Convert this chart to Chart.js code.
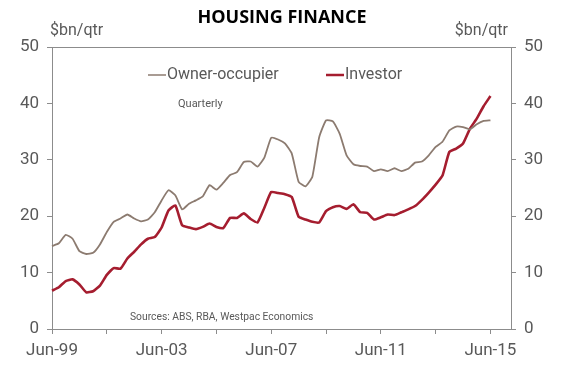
<!DOCTYPE html>
<html>
<head>
<meta charset="utf-8">
<script src="https://cdn.jsdelivr.net/npm/chart.js@4/dist/chart.umd.min.js"></script>
<style>
  html, body { margin: 0; padding: 0; background: #fff; }
  #wrap { width: 563px; height: 375px; position: relative; }
</style>
</head>
<body>
<div id="wrap"><canvas id="chart"></canvas></div>
<script>
// quarterly, Jun-99 .. Jun-15 ($bn per quarter)
const ownerOccupier = [
  14.7, 15.2, 16.7, 16.0, 13.8, 13.3, 13.5, 15.0, 17.2, 19.0,
  19.6, 20.3, 19.6, 19.1, 19.4, 20.7, 22.8, 24.6, 23.7, 21.2,
  22.2, 22.8, 23.5, 25.5, 24.7, 25.9, 27.3, 27.8, 29.6, 29.7,
  28.8, 30.4, 33.9, 33.6, 32.9, 31.1, 26.1, 25.3, 27.0, 34.0,
  37.0, 36.8, 34.6, 30.8, 29.2, 28.9, 28.8, 28.0, 28.3, 28.0,
  28.5, 28.0, 28.4, 29.5, 29.7, 30.8, 32.3, 33.2, 35.2, 35.9,
  35.8, 35.4, 36.3, 36.9, 37.0
];
const investor = [
  6.8, 7.4, 8.5, 8.8, 7.9, 6.5, 6.7, 7.7, 9.6, 10.8,
  10.7, 12.5, 13.7, 15.0, 16.0, 16.3, 18.0, 21.0, 21.9, 18.4,
  18.0, 17.7, 18.1, 18.7, 18.1, 17.9, 19.7, 19.7, 20.5, 19.5,
  18.9, 21.5, 24.3, 24.1, 23.9, 23.4, 19.9, 19.4, 19.0, 18.9,
  20.9, 21.6, 21.8, 21.3, 22.1, 20.7, 20.6, 19.4, 19.8, 20.3,
  20.2, 20.7, 21.2, 21.8, 22.9, 24.2, 25.6, 27.2, 31.4, 32.0,
  32.9, 35.5, 37.3, 39.5, 41.3
];
const tickLabels = ['Jun-99', 'Jun-03', 'Jun-07', 'Jun-11', 'Jun-15'];
const yTicks = [0, 10, 20, 30, 40, 50];

// quarter labels; the axis runs 3 quarters past the last observation
const months = ['Jun', 'Sep', 'Dec', 'Mar'];
const quarters = [];
for (let i = 0; i < 68; i++) {
  const yr = (1999 + Math.floor((i + 1) / 4)) % 100;
  quarters.push(months[i % 4] + '-' + String(yr).padStart(2, '0'));
}

const AXIS = '#8c8c8c';
const TXT = '#595959';
const FONT = 'Roboto, "Liberation Sans", Arial, sans-serif';

const decor = {
  id: 'decor',
  afterDraw(chart) {
    const { ctx, chartArea: a } = chart;
    ctx.save();
    // top frame line
    ctx.strokeStyle = AXIS;
    ctx.lineWidth = 1;
    ctx.beginPath();
    ctx.moveTo(a.left, a.top + 0.5);
    ctx.lineTo(a.right, a.top + 0.5);
    ctx.stroke();

    // title
    ctx.fillStyle = '#000';
    ctx.textAlign = 'center';
    ctx.textBaseline = 'middle';
    ctx.font = 'bold 18px "Open Sans", Lato, sans-serif';
    ctx.fillText('HOUSING FINANCE', 282, 18);

    // unit labels
    ctx.fillStyle = TXT;
    ctx.font = '16px ' + FONT;
    ctx.textAlign = 'left';
    ctx.fillText('$bn/qtr', 50, 31);
    ctx.textAlign = 'right';
    ctx.fillText('$bn/qtr', 508, 31);

    // legend
    ctx.textAlign = 'left';
    ctx.font = '16px ' + FONT;
    ctx.strokeStyle = '#8c7b70';
    ctx.lineWidth = 1.5;
    ctx.beginPath(); ctx.moveTo(148, 75); ctx.lineTo(166, 75); ctx.stroke();
    ctx.fillText('Owner-occupier', 167, 75);
    ctx.strokeStyle = '#a51d2f';
    ctx.lineWidth = 2.5;
    ctx.beginPath(); ctx.moveTo(326, 75); ctx.lineTo(344, 75); ctx.stroke();
    ctx.fillText('Investor', 345, 75);

    ctx.font = '11px ' + FONT;
    ctx.fillText('Quarterly', 178, 104);
    ctx.font = '10.3px ' + FONT;
    ctx.fillText('Sources: ABS, RBA, Westpac Economics', 130, 317);
    ctx.restore();
  }
};

function yAxis(pos) {
  return {
    position: pos,
    min: 0, max: 50,
    afterFit: s => { s.width = 52; },
    afterBuildTicks: s => { s.ticks = yTicks.map(v => ({ value: v })); },
    grid: { drawOnChartArea: false, drawTicks: true, tickLength: 5, color: AXIS },
    border: { display: true, color: AXIS, width: 1 },
    ticks: { color: TXT, font: { family: FONT, size: 17 }, padding: 8 }
  };
}

new Chart(document.getElementById('chart'), {
  type: 'line',
  data: {
    labels: quarters,
    datasets: [
      { label: 'Owner-occupier', data: ownerOccupier, borderColor: '#8c7b70', borderWidth: 1.8, pointRadius: 0, tension: 0.15 },
      { label: 'Investor', data: investor, borderColor: '#a51d2f', borderWidth: 2.6, pointRadius: 0, tension: 0.15 }
    ]
  },
  options: {
    responsive: true,
    maintainAspectRatio: false,
    animation: false,
    layout: { padding: { top: 47, left: 0, right: 0, bottom: 0 } },
    plugins: { legend: { display: false }, tooltip: { enabled: false }, title: { display: false } },
    scales: {
      x: {
        type: 'category',
        offset: false,
        afterFit: s => { s.height = 46; },
        grid: { drawOnChartArea: false, drawTicks: true, tickLength: 5, color: AXIS },
        border: { display: true, color: AXIS, width: 1 },
        ticks: {
          autoSkip: false, maxRotation: 0, color: TXT, padding: 7,
          font: { family: FONT, size: 17 },
          callback(v, i) {
            if (i % 16 === 0) return tickLabels[i / 16];
            if (i % 8 === 0) return '';
            return null;
          }
        }
      },
      y: yAxis('left'),
      y2: yAxis('right')
    }
  },
  plugins: [decor]
});
</script>
</body>
</html>
